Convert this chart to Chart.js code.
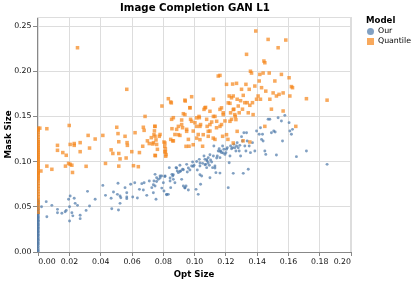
<!DOCTYPE html>
<html><head><meta charset="utf-8">
<script src="https://cdn.jsdelivr.net/npm/chart.js@4/dist/chart.umd.min.js"></script>
<style>
html,body{margin:0;padding:0;background:#fff;}
#wrap{position:relative;width:415px;height:282px;font-family:'DejaVu Sans',sans-serif;}
#c{position:absolute;left:0;top:0;}
#title{position:absolute;left:0;width:390px;top:1px;text-align:center;font-weight:bold;font-size:10.2px;color:#000;line-height:14px;}
#leg{position:absolute;left:366px;top:14px;}
.lt{font-weight:bold;font-size:8.6px;line-height:12px;color:#000;}
.li{position:relative;height:10.3px;font-size:7.8px;line-height:10.3px;color:#000;padding-left:12px;white-space:nowrap;}
.sym{position:absolute;left:0.6px;top:1.5px;width:7.4px;height:7.4px;}
</style></head>
<body><div id="wrap">
<canvas id="c" width="415" height="282"></canvas>
<div id="title">Image Completion GAN L1</div>
<div id="leg"><div class="lt">Model</div>
<div class="li"><span class="sym" style="border-radius:50%;background:rgba(76,120,168,0.7)"></span>Our</div>
<div class="li"><span class="sym" style="background:rgba(245,133,24,0.7)"></span>Quantile</div></div>
</div>
<script>
const chartTitle = 'Image Completion GAN L1';
const xTitle = 'Opt Size';
const yTitle = 'Mask Size';
const seriesNames = ['Our', 'Quantile'];
const xTickValues = [0, 0.02, 0.04, 0.06, 0.08, 0.10, 0.12, 0.14, 0.16, 0.18, 0.20];
const xTickLabels = ['0.00','0.02','0.04','0.06','0.08','0.10','0.12','0.14','0.16','0.18','0.20'];
const yTickValues = [0, 0.05, 0.10, 0.15, 0.20, 0.25];
const yTickLabels = ['0.00','0.05','0.10','0.15','0.20','0.25'];

// [Opt Size, Mask Size]
const ourPoints = [
[0,0.0005],[0,0.002],[0,0.004],[0,0.006],[0,0.008],[0,0.0095],[0,0.011],[0,0.013],[0,0.0145],[0,0.016],
[0,0.018],[0,0.019],[0,0.0205],[0,0.022],[0,0.023],[0,0.0245],[0,0.026],[0,0.027],[0,0.0285],[0,0.03],
[0,0.031],[0,0.0325],[0,0.034],[0,0.035],[0,0.0365],[0,0.038],[0,0.039],[0,0.0405],[0,0.042],[0,0.043],
[0,0.044],[0,0.046],[0,0.047],[0,0.049],[0,0.051],[0,0.053],[0,0.055],[0,0.057],[0.0021,0.050],
[0.0051,0.0557],[0.0055,0.039],[0.0087,0.0516],[0.0123,0.0472],[0.0123,0.0435],[0.0151,0.0428],[0.0172,0.0446],
[0.0179,0.046],[0.0194,0.0583],[0.0204,0.062],[0.020,0.050],[0.020,0.0343],[0.0215,0.0435],[0.0221,0.040],
[0.023,0.0594],[0.0236,0.0538],[0.0251,0.0516],[0.0268,0.0406],[0.0268,0.0369],[0.0306,0.046],[0.0315,0.0671],
[0.0328,0.0509],[0.0364,0.0583],[0.0413,0.0737],[0.043,0.0627],[0.0466,0.0594],[0.047,0.0479],[0.0481,0.0664],
[0.0506,0.0638],[0.051,0.076],[0.0513,0.0465],[0.0523,0.062],[0.0523,0.0538],[0.0528,0.0601],[0.0555,0.0712],
[0.0566,0.0656],[0.0566,0.0608],[0.0566,0.059],[0.0591,0.0749],[0.0604,0.0608],[0.0617,0.0767],[0.0634,0.0597],
[0.0647,0.0693],[0.0662,0.0756],[0.0672,0.0686],[0.0677,0.0767],[0.0694,0.0627],[0.071,0.0785],[0.0726,0.0712],
[0.0736,0.0656],[0.074,0.0785],[0.0747,0.0859],[0.0747,0.073],[0.0753,0.0583],[0.0757,0.0822],[0.0768,0.0804],
[0.0779,0.0841],[0.0789,0.0841],[0.080,0.0767],[0.0804,0.0675],[0.0811,0.0841],[0.0821,0.0638],[0.0832,0.0638],
[0.0838,0.0933],[0.0843,0.0785],[0.0847,0.0712],[0.0855,0.0859],[0.086,0.0841],[0.0864,0.0804],[0.0874,0.0767],
[0.0881,0.0933],[0.0889,0.0896],[0.0896,0.0878],[0.0906,0.0959],[0.0911,0.0896],[0.0917,0.0804],[0.0923,0.0915],
[0.0928,0.073],[0.0938,0.0712],[0.0945,0.073],[0.0949,0.097],[0.0953,0.0885],[0.096,0.0686],[0.097,0.0907],
[0.0981,0.0951],[0.0987,0.0996],[0.0996,0.0959],[0.1009,0.0693],[0.1017,0.0907],[0.1023,0.0638],[0.103,0.1025],
[0.1034,0.0951],[0.1038,0.0749],[0.1045,0.0841],[0.1051,0.0981],[0.106,0.1062],[0.1066,0.1025],[0.1072,0.097],
[0.1077,0.0933],[0.108,0.1007],[0.1087,0.0988],[0.1087,0.1044],[0.1094,0.0959],[0.1098,0.0822],[0.1102,0.1018],
[0.1109,0.0996],[0.1115,0.0933],[0.112,0.1062],[0.1123,0.1173],[0.113,0.0951],[0.1136,0.0878],[0.1145,0.1062],
[0.1151,0.1117],[0.1157,0.1143],[0.1162,0.1044],[0.1168,0.1117],[0.1172,0.1099],[0.1179,0.1173],[0.1187,0.1136],
[0.1194,0.108],[0.120,0.1099],[0.1204,0.1136],[0.1209,0.1154],[0.1215,0.0712],[0.1221,0.0988],[0.1226,0.1062],
[0.123,0.1173],[0.1236,0.1143],[0.1243,0.1154],[0.1247,0.087],[0.1251,0.1191],[0.1257,0.1154],[0.1264,0.1117],
[0.1268,0.1173],[0.1272,0.121],[0.1279,0.1154],[0.1285,0.1117],[0.1289,0.118],[0.1294,0.1062],[0.130,0.1276],
[0.1306,0.1228],[0.1311,0.087],[0.1315,0.132],[0.1321,0.1173],[0.1328,0.1117],[0.1332,0.132],[0.1336,0.1228],
[0.1343,0.0915],[0.1349,0.1173],[0.1357,0.1099],[0.137,0.121],[0.1385,0.1117],[0.1396,0.1338],[0.1413,0.1302],
[0.1421,0.1375],[0.1428,0.1246],[0.1434,0.1302],[0.1438,0.1228],[0.1449,0.1117],[0.1455,0.108],[0.147,0.1468],
[0.1481,0.1468],[0.1491,0.132],[0.1506,0.1338],[0.1515,0.1327],[0.1523,0.1073],[0.1534,0.1486],[0.1555,0.145],
[0.1562,0.1228],[0.1577,0.1512],[0.1604,0.1431],[0.1609,0.1338],[0.1619,0.1302],[0.1626,0.1357],[0.1651,0.1055],
[0.1715,0.1117],[0.1847,0.097],
[0.1162,0.1113],[0.1183,0.1095],[0.1141,0.104],[0.1098,0.1076],[0.1077,0.102],[0.1066,0.0965],[0.1034,0.0984],
[0.1013,0.1002],[0.0991,0.0947],[0.096,0.0929],[0.0928,0.091],[0.0906,0.0891],[0.0885,0.0929],[0.0864,0.0855],
[0.0843,0.0818],[0.081,0.0836],[0.0779,0.0818],[0.0757,0.078],[0.0736,0.0744],[0.079,0.0707],[0.0821,0.0633],
[0.0938,0.0707],[0.1034,0.0855],[0.113,0.0929],[0.1162,0.0873]
];

const quantilePoints = [
[0,0.044],[0,0.048],[0,0.052],[0,0.055],[0,0.058],[0,0.061],[0,0.064],[0,0.067],[0,0.070],[0,0.073],
[0,0.076],[0,0.079],[0,0.081],[0,0.083],[0,0.085],[0,0.087],[0,0.088],[0,0.09],[0,0.092],[0,0.094],
[0,0.096],[0,0.098],[0,0.1],[0,0.102],[0,0.104],[0,0.106],[0,0.108],[0,0.11],[0,0.112],[0,0.114],
[0,0.116],[0,0.118],[0,0.12],[0,0.122],[0,0.124],[0,0.127],[0,0.13],[0,0.133],[0,0.135],[0,0.137],
[0.0055,0.1364],[0.001,0.137],[0.0198,0.140],[0.0251,0.226],[0.0123,0.118],[0.0123,0.1125],[0.0157,0.110],
[0.0179,0.107],[0.0174,0.095],[0.0194,0.098],[0.0204,0.097],[0.0215,0.096],[0.0219,0.088],[0.0204,0.119],
[0.023,0.120],[0.023,0.118],[0.0268,0.121],[0.0268,0.111],[0.0055,0.095],[0.0087,0.0915],[0.0017,0.0896],
[0.0319,0.129],[0.0328,0.115],[0.0364,0.125],[0.0306,0.0948],[0.0413,0.129],[0.043,0.098],[0.0466,0.113],
[0.0477,0.109],[0.0502,0.138],[0.051,0.131],[0.0515,0.122],[0.0515,0.095],[0.0523,0.103],[0.0515,0.109],
[0.0555,0.128],[0.0562,0.104],[0.0568,0.121],[0.057,0.118],[0.0566,0.180],[0.0598,0.111],[0.0609,0.0955],
[0.0619,0.132],[0.064,0.0944],[0.0647,0.110],[0.0668,0.117],[0.0677,0.1346],[0.0672,0.138],[0.0683,0.150],
[0.0698,0.123],[0.071,0.120],[0.0723,0.1265],[0.0736,0.121],[0.0745,0.139],[0.0743,0.134],[0.0747,0.128],
[0.0753,0.124],[0.0757,0.119],[0.0747,0.107],[0.0762,0.1136],[0.0779,0.130],[0.0791,0.1615],[0.0804,0.1217],
[0.0809,0.117],[0.0813,0.114],[0.0813,0.1106],[0.0815,0.106],[0.0832,0.1696],[0.0847,0.166],[0.0853,0.1468],
[0.0855,0.1364],[0.0847,0.1246],[0.086,0.123],[0.0864,0.1486],[0.0874,0.130],[0.0885,0.1357],[0.0896,0.139],
[0.0906,0.129],[0.0917,0.146],[0.0928,0.153],[0.0938,0.152],[0.0938,0.168],[0.0923,0.1375],[0.0949,0.1357],
[0.096,0.1246],[0.0964,0.117],[0.097,0.1597],[0.0981,0.1718],[0.0974,0.1468],[0.0991,0.1338],[0.1002,0.143],
[0.1013,0.139],[0.1023,0.130],[0.1028,0.150],[0.103,0.1486],[0.1038,0.141],[0.1051,0.117],[0.106,0.1578],
[0.107,0.160],[0.1077,0.1468],[0.108,0.139],[0.1087,0.128],[0.1098,0.1338],[0.1109,0.1438],[0.112,0.169],
[0.112,0.150],[0.113,0.1246],[0.114,0.1375],[0.1151,0.1947],[0.1162,0.1954],[0.1162,0.1578],[0.1172,0.141],
[0.1179,0.128],[0.1183,0.152],[0.1194,0.145],[0.1204,0.1855],[0.1213,0.1246],[0.1221,0.1726],[0.1226,0.1645],
[0.123,0.154],[0.1236,0.1468],[0.1243,0.1858],[0.1247,0.1726],[0.1251,0.158],[0.126,0.150],[0.1268,0.1866],
[0.1272,0.169],[0.1279,0.1615],[0.1285,0.154],[0.1294,0.1674],[0.130,0.180],[0.1306,0.158],[0.1311,0.1733],
[0.1321,0.1652],[0.1328,0.1855],[0.1332,0.2187],[0.1336,0.1652],[0.1343,0.154],[0.1349,0.180],[0.1353,0.1623],
[0.1357,0.200],[0.1364,0.198],[0.137,0.1652],[0.1374,0.152],[0.1385,0.1836],[0.1391,0.2445],[0.1396,0.169],
[0.1406,0.1726],[0.1413,0.1892],[0.1417,0.1965],[0.1421,0.169],[0.1428,0.1818],[0.1438,0.198],[0.1443,0.2113],
[0.1449,0.2094],[0.1449,0.139],[0.1455,0.178],[0.147,0.2352],[0.1477,0.198],[0.1481,0.169],[0.1491,0.158],
[0.1502,0.176],[0.1513,0.1892],[0.1523,0.1726],[0.1534,0.226],[0.154,0.1744],[0.1555,0.1965],[0.1566,0.176],
[0.1566,0.156],[0.1583,0.2345],[0.1604,0.1928],[0.1609,0.1726],[0.1619,0.183],[0.1626,0.1818],[0.1647,0.139],
[0.1715,0.1696],[0.1847,0.168],
[0.1247,0.1206],[0.1353,0.1217],[0.131,0.123],
[0.1013,0.1484],[0.1066,0.1595],[0.1098,0.1557],[0.113,0.150],[0.1172,0.1595],[0.1183,0.154],[0.1215,0.165],
[0.1236,0.1706],[0.1247,0.1576],[0.1257,0.152],[0.1141,0.1446],[0.1162,0.139],[0.1098,0.141],[0.1087,0.1335],
[0.1055,0.1298],[0.1034,0.139],[0.1013,0.126],[0.0981,0.1446],[0.0949,0.1335],[0.0917,0.141],[0.0896,0.1298],
[0.0945,0.1169],[0.0991,0.1187],[0.1034,0.1243],[0.1119,0.126],[0.1204,0.1298],[0.1226,0.1446],[0.1264,0.1465],
[0.1272,0.1335],[0.0851,0.165],[0.094,0.167],[0.097,0.1595],[0.0747,0.139],[0.074,0.1298],[0.0732,0.1195],
[0.0774,0.128],[0.081,0.1206],[0.081,0.111],[0.0817,0.1077],[0.0749,0.1065],[0.0864,0.123]
];

const toXY = arr => arr.map(p => ({x: p[0], y: p[1]}));
const FONT = 'DejaVu Sans';

const viewBorder = {
  id: 'viewBorder',
  beforeDatasetsDraw(chart) {
    const a = chart.chartArea, ctx = chart.ctx;
    ctx.save();
    ctx.strokeStyle = '#ddd';
    ctx.lineWidth = 1;
    ctx.beginPath();
    ctx.moveTo(a.left, Math.round(a.top) + 0.5);
    ctx.lineTo(a.right, Math.round(a.top) + 0.5);
    ctx.moveTo(Math.round(a.right) - 0.5, a.top);
    ctx.lineTo(Math.round(a.right) - 0.5, a.bottom);
    ctx.stroke();
    ctx.restore();
  }
};

new Chart(document.getElementById('c'), {
  type: 'scatter',
  data: {
    datasets: [
      {label: seriesNames[0], data: toXY(ourPoints), order: 1, pointStyle: 'circle', pointRadius: 1.45,
       backgroundColor: 'rgba(76,120,168,0.7)', borderWidth: 0},
      {label: seriesNames[1], data: toXY(quantilePoints), order: 0, pointStyle: 'rect', pointRadius: 2.5,
       backgroundColor: 'rgba(245,133,24,0.7)', borderWidth: 0}
    ]
  },
  options: {
    responsive: false, animation: false, devicePixelRatio: 1,
    layout: {padding: {top: 17, right: 64, bottom: 0, left: 0}},
    plugins: {legend: {display: false}, tooltip: {enabled: false}, title: {display: false}},
    elements: {point: {hoverRadius: 0}},
    scales: {
      x: {
        type: 'linear', position: 'bottom', min: -0.0008, max: 0.2,
        afterFit: s => { s.height = 30; },
        afterBuildTicks: s => { s.ticks = xTickValues.map(v => ({value: v})); },
        ticks: {autoSkip: false, maxRotation: 0, align: 'inner', padding: 1.5, color: '#111',
                font: {family: FONT, size: 7.8},
                callback: (v) => xTickLabels[xTickValues.findIndex(t => Math.abs(t - v) < 1e-9)]},
        grid: {color: '#ddd', lineWidth: 1, tickLength: 4, tickColor: '#888'},
        border: {color: '#888', width: 1},
        title: {display: true, text: xTitle, color: '#000', font: {family: FONT, size: 8.6, weight: 'bold'},
                padding: {top: 0, bottom: 2.5}}
      },
      y: {
        type: 'linear', position: 'left', min: 0, max: 0.26,
        afterFit: s => { s.width = 37; },
        afterBuildTicks: s => { s.ticks = yTickValues.map(v => ({value: v})); },
        ticks: {autoSkip: false, padding: 1.5, color: '#111', font: {family: FONT, size: 7.8},
                callback: (v) => yTickLabels[yTickValues.findIndex(t => Math.abs(t - v) < 1e-9)]},
        grid: {color: '#ddd', lineWidth: 1, tickLength: 4, tickColor: '#888'},
        border: {color: '#888', width: 1},
        title: {display: true, text: yTitle, color: '#000', font: {family: FONT, size: 8.6, weight: 'bold'},
                padding: {top: 3.5, bottom: 0}}
      }
    }
  },
  plugins: [viewBorder]
});
</script>
</body></html>
